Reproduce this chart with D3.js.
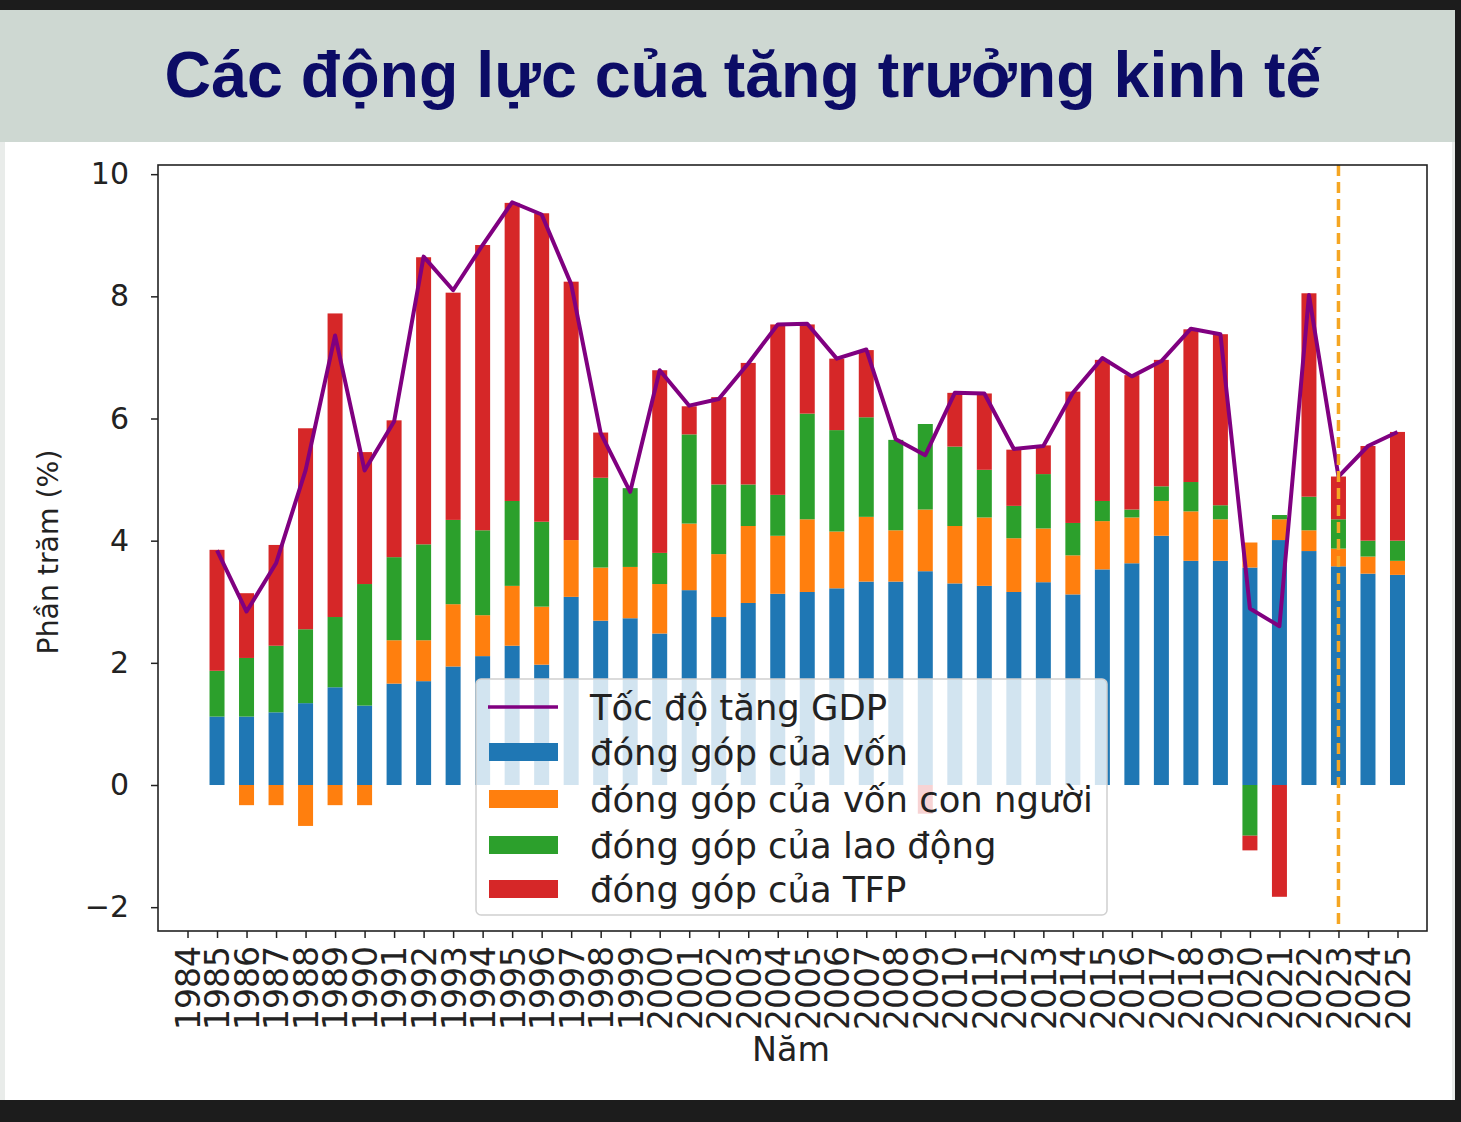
<!DOCTYPE html>
<html>
<head>
<meta charset="utf-8">
<script src="https://cdn.jsdelivr.net/npm/d3@7"></script>
<style>
  html, body { margin: 0; padding: 0; background: #1c1c1c; }
  svg { display: block; }
</style>
</head>
<body>
<script>
// ---------- DATA ----------
const tickYears = d3.range(1984, 2026); // 1984..2025 tick labels
const years = [1985,1986,1987,1988,1989,1990,1991,1992,1993,1994,1995,1996,1997,1998,1999,2000,2001,2002,2003,2004,2005,2006,2007,2008,2009,2010,2011,2012,2013,2014,2015,2016,2017,2018,2019,2020,2021,2022,2023,2024,2025];
const capital = [1.12,1.12,1.19,1.34,1.60,1.30,1.66,1.70,1.94,2.11,2.28,1.97,3.08,2.69,2.73,2.48,3.19,2.75,2.98,3.13,3.16,3.22,3.33,3.33,3.50,3.30,3.26,3.16,3.32,3.12,3.53,3.63,4.08,3.67,3.67,3.56,4.01,3.83,3.58,3.46,3.44];
const humanCapital = [0,-0.33,-0.33,-0.67,-0.33,-0.33,0.71,0.67,1.02,0.67,0.98,0.95,0.93,0.87,0.84,0.81,1.09,1.03,1.26,0.95,1.19,0.93,1.06,0.84,1.01,0.94,1.12,0.88,0.88,0.64,0.79,0.75,0.57,0.81,0.68,0.41,0.34,0.34,0.29,0.28,0.23];
const labor = [0.75,0.96,1.09,1.21,1.15,1.99,1.36,1.57,1.38,1.39,1.39,1.39,0,1.47,1.29,0.51,1.46,1.14,0.68,0.67,1.73,1.66,1.63,1.48,1.40,1.30,0.78,0.53,0.89,0.53,0.33,0.13,0.24,0.48,0.23,-0.83,0.07,0.55,0.48,0.26,0.33];
const tfp = [1.98,1.06,1.65,3.29,4.97,2.16,2.24,4.70,3.72,4.67,4.88,5.05,4.23,0.74,0,2.99,0.46,1.43,1.99,2.79,1.46,1.17,1.10,0,-0.47,0.88,1.25,0.92,0.47,2.15,2.31,2.20,2.07,2.50,2.80,-0.24,-1.83,3.33,0.70,1.55,1.78];
const gdp = [3.84,2.84,3.63,5.15,7.36,5.15,5.95,8.65,8.10,8.84,9.54,9.34,8.20,5.76,4.80,6.79,6.21,6.32,6.90,7.54,7.55,6.98,7.13,5.66,5.40,6.42,6.41,5.50,5.55,6.42,6.99,6.69,6.94,7.47,7.38,2.89,2.60,8.02,5.05,5.55,5.78];
const yTicks = [-2,0,2,4,6,8,10];
const markerYear = 2023;

const seriesKeys = ["capital","human","labor","tfp"];
const seriesNames = {
  gdp: "Tốc độ tăng GDP",
  capital: "đóng góp của vốn",
  human: "đóng góp của vốn con người",
  labor: "đóng góp của lao động",
  tfp: "đóng góp của TFP"
};
const colors = { capital: "#1f77b4", human: "#ff7f0e", labor: "#2ca02c", tfp: "#d62728", gdp: "#800080" };
const titleText = "Các động lực của tăng trưởng kinh tế";

// ---------- LAYOUT ----------
const W = 1461, H = 1122;
const plot = { left: 158, right: 1427, top: 165, bottom: 931 };

const svg = d3.select("body").append("svg").attr("width", W).attr("height", H);

// background pieces
svg.append("rect").attr("x",0).attr("y",0).attr("width",W).attr("height",H).attr("fill","#1c1c1c");
svg.append("rect").attr("x",0).attr("y",10).attr("width",1455).attr("height",135).attr("fill","#ced8d2");
svg.append("rect").attr("x",0).attr("y",142).attr("width",1455).attr("height",958).attr("fill","#e9ecea");
svg.append("rect").attr("x",5).attr("y",142).attr("width",1447).attr("height",958).attr("fill","#ffffff");

function fit(sel, target) {
  const len = sel.node().getComputedTextLength();
  const fs = parseFloat(sel.attr("font-size"));
  sel.attr("font-size", fs * target / len);
}

// Title
const title = svg.append("text")
  .attr("x", 743).attr("y", 97)
  .attr("text-anchor","middle")
  .attr("font-family","'Liberation Sans', Arial, sans-serif")
  .attr("font-weight","bold")
  .attr("font-size", 60)
  .attr("fill","#0c0c66")
  .text(titleText);
fit(title, 1157);

// scales
const x = d3.scaleLinear().domain([1983, 2026]).range([plot.left, plot.right]);
const y = d3.scaleLinear().domain([-2.39, 10.15]).range([plot.bottom, plot.top]);
const barW = 15;

// stacked data
const rows = years.map((yr, i) => ({ year: yr, capital: capital[i], human: humanCapital[i], labor: labor[i], tfp: tfp[i] }));
const stack = d3.stack().keys(seriesKeys).offset(d3.stackOffsetDiverging);
const stacked = stack(rows);

const gBars = svg.append("g");
stacked.forEach(layer => {
  gBars.append("g").attr("fill", colors[layer.key])
    .selectAll("rect").data(layer).join("rect")
    .attr("x", d => x(d.data.year) - barW/2)
    .attr("width", barW)
    .attr("y", d => y(Math.max(d[0], d[1])))
    .attr("height", d => Math.abs(y(d[0]) - y(d[1])));
});

// GDP line
const line = d3.line().x((d,i) => x(years[i])).y(d => y(d));
svg.append("path").datum(gdp)
  .attr("d", line)
  .attr("fill","none")
  .attr("stroke", colors.gdp)
  .attr("stroke-width", 4)
  .attr("stroke-linejoin","round");

// vertical dashed marker
svg.append("line")
  .attr("x1", x(markerYear)).attr("x2", x(markerYear))
  .attr("y1", plot.top).attr("y2", plot.bottom)
  .attr("stroke","#f5a623").attr("stroke-width",3.5)
  .attr("stroke-dasharray","11,6");

// frame
svg.append("rect")
  .attr("x", plot.left).attr("y", plot.top)
  .attr("width", plot.right - plot.left).attr("height", plot.bottom - plot.top)
  .attr("fill","none").attr("stroke","#222").attr("stroke-width",1.6);

// Y axis
const yAxis = svg.append("g").attr("transform", `translate(${plot.left},0)`)
  .call(d3.axisLeft(y).tickValues(yTicks).tickSize(7).tickPadding(22).tickFormat(d3.format("d")));
yAxis.select(".domain").remove();
yAxis.selectAll(".tick line").attr("stroke","#222").attr("stroke-width",1.5);
yAxis.selectAll(".tick text")
  .attr("font-family","'DejaVu Sans', sans-serif")
  .attr("font-size", 30).attr("fill","#222");

// X axis
const xAxis = svg.append("g").attr("transform", `translate(0,${plot.bottom})`)
  .call(d3.axisBottom(x).tickValues(tickYears).tickSize(7).tickFormat(d3.format("d")));
xAxis.select(".domain").remove();
xAxis.selectAll(".tick line").attr("stroke","#222").attr("stroke-width",1.5);
xAxis.selectAll(".tick text")
  .attr("font-family","'DejaVu Sans', sans-serif")
  .attr("font-size", 33).attr("fill","#222")
  .attr("text-anchor","end")
  .attr("transform","translate(0,15) rotate(-90)")
  .attr("x", 0).attr("y", 0).attr("dy","0.36em");

// Axis labels
const yl = svg.append("text")
  .attr("transform","translate(58,552) rotate(-90)")
  .attr("text-anchor","middle")
  .attr("font-family","'DejaVu Sans', sans-serif")
  .attr("font-size", 28).attr("fill","#222")
  .text("Phần trăm (%)");
fit(yl, 205);
const xl = svg.append("text")
  .attr("x", 791).attr("y", 1061)
  .attr("text-anchor","middle")
  .attr("font-family","'DejaVu Sans', sans-serif")
  .attr("font-size", 28).attr("fill","#222")
  .text("Năm");
fit(xl, 78);

// Legend
const lg = svg.append("g");
lg.append("rect").attr("x",476).attr("y",679).attr("width",631).attr("height",236)
  .attr("rx",5).attr("fill","#ffffff").attr("fill-opacity",0.8)
  .attr("stroke","#d0d0d0").attr("stroke-width",1.5);
const legendItems = ["gdp","capital","human","labor","tfp"];
const rowY = [707, 752, 799, 845, 889];
legendItems.forEach((k, i) => {
  if (k === "gdp") {
    lg.append("line").attr("x1",488).attr("x2",558).attr("y1",rowY[i]).attr("y2",rowY[i])
      .attr("stroke", colors.gdp).attr("stroke-width",3.5);
  } else {
    lg.append("rect").attr("x",489).attr("y",rowY[i]-9).attr("width",69).attr("height",18)
      .attr("fill", colors[k]);
  }
});
const legendTexts = legendItems.map((k, i) =>
  lg.append("text").attr("x",590).attr("y",rowY[i]).attr("dy","0.36em")
    .attr("font-family","'DejaVu Sans', sans-serif")
    .attr("font-size",30).attr("fill","#222")
    .text(seriesNames[k]));
// fit font using the longest label
const longest = legendTexts[2];
const len = longest.node().getComputedTextLength();
const lfs = 30 * 503 / len;
legendTexts.forEach(t => t.attr("font-size", lfs));
</script>
</body>
</html>
